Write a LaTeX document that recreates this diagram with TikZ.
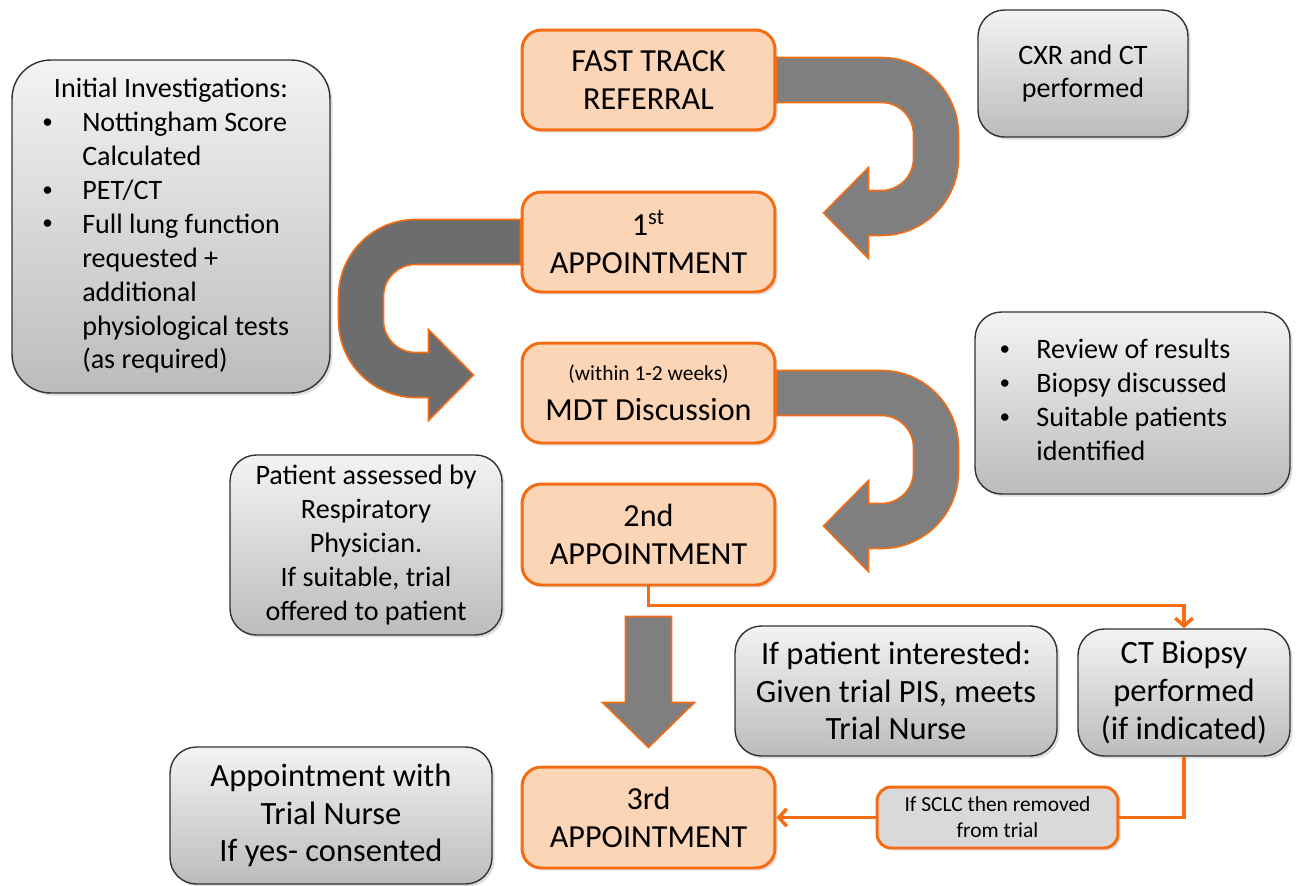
\documentclass[tikz,border=0pt]{standalone}
\usepackage{fontspec}
\setmainfont{Carlito}
\usetikzlibrary{arrows.meta,shadows}

\definecolor{peach}{RGB}{251,213,181}
\definecolor{orangeLine}{RGB}{246,108,18}
\definecolor{arrowGray}{RGB}{127,127,127}
\definecolor{arrowDark}{RGB}{109,109,109}
\definecolor{boxTop}{RGB}{243,243,243}
\definecolor{boxBottom}{RGB}{188,188,188}
\definecolor{labelGray}{RGB}{217,217,217}

\newcommand{\smallbullet}{\raisebox{0.12em}{\scalebox{0.75}{\textbullet}}}

\begin{document}
\begin{tikzpicture}[x=0.02cm, y=-0.02cm,
            stage/.style={rectangle, rounded corners=11pt, draw=orangeLine, line width=1.7pt, fill=peach,
                minimum width=5.06cm, minimum height=2cm, align=center, font=\fontsize{18.3}{21.5}\selectfont,
                drop shadow={opacity=0.25, shadow xshift=1.5pt, shadow yshift=-1.5pt}},
            note/.style={rectangle, rounded corners=15pt, draw=black!80, line width=0.8pt,
                top color=boxTop, bottom color=boxBottom, align=center, font=\fontsize{16}{19.3}\selectfont,
                drop shadow={opacity=0.25, shadow xshift=1.5pt, shadow yshift=-1.5pt}},
            noteBig/.style={note, font=\fontsize{18.5}{21.5}\selectfont},
            noteSmall/.style={rectangle, rounded corners=8pt, draw=orangeLine, line width=1.7pt, fill=labelGray,
                align=center, font=\fontsize{12.2}{14.8}\selectfont,
                drop shadow={opacity=0.25, shadow xshift=1.5pt, shadow yshift=-1.5pt}},
            bigArrow/.style={draw=orangeLine, line width=0.9pt, fill=arrowGray, line join=miter},
            link/.style={draw=orangeLine, line width=2pt, -{Straight Barb[length=4.5pt, width=10pt]}},
            uturn/.pic={
                \draw[pic actions] (0,-22.5) -- (105,-22.5) arc[start angle=-90, end angle=0, radius=77]
                    -- (182,78.5) arc[start angle=0, end angle=90, radius=77] -- (92,155.5) -- (92,178.5)
                    -- (47,133) -- (92,87.5) -- (92,110.5) -- (105,110.5)
                    arc[start angle=90, end angle=0, radius=32] -- (137,54.5)
                    arc[start angle=0, end angle=-90, radius=32] -- (0,22.5) -- cycle;
            }]

            \useasboundingbox (0,0) rectangle (1299,886);

            % main stages
            \node[stage] (fast) at (648.5,80) {FAST TRACK\\REFERRAL};
            \node[stage] (first) at (648.5,242) {1\textsuperscript{st}\\APPOINTMENT};
            \node[stage] (mdt) at (648.5,393) {{\fontsize{12.2}{14}\selectfont (within 1-2 weeks)}\\[1pt]MDT Discussion};
            \node[stage, minimum height=2.02cm] (second) at (648.5,534.5) {2nd\\APPOINTMENT};
            \node[stage, minimum height=2.02cm] (third) at (648.5,817.5) {3rd\\APPOINTMENT};

            % big arrows between stages
            \pic[bigArrow] at (fast.east) {uturn};
            \pic[bigArrow, fill=arrowDark, xscale=-1] at (first.west) {uturn};
            \pic[bigArrow] at (mdt.east) {uturn};
            \draw[bigArrow, shift={(second.south)}] (-23,30) -- (23,30) -- (23,116) -- (46,116)
                -- (0,161) -- (-46,116) -- (-23,116) -- cycle;

            % notes
            \node[note, rounded corners=22pt, minimum width=6.36cm, minimum height=6.66cm] (init) at (171,226.5) {%
                \begin{tabular}{@{}l@{}l@{\hspace{6pt}}}
                \multicolumn{2}{@{}c@{}}{Initial Investigations:}\\
                \makebox[22.7pt][l]{\smallbullet} & Nottingham Score\\
                 & Calculated\\
                \smallbullet & PET/CT\\
                \smallbullet & Full lung function\\
                 & requested +\\
                 & additional\\
                 & physiological tests\\
                 & (as required)
                \end{tabular}};
            \node[note, minimum width=4.2cm, minimum height=2.54cm] (cxr) at (1083,73.5) {CXR and CT\\performed};
            \node[note, minimum width=6.3cm, minimum height=3.64cm] (review) at (1132.5,403) {%
                \begin{tabular}{@{}l@{}l@{\hspace{20pt}}}
                \makebox[21pt][l]{\smallbullet} & Review of results\\
                \smallbullet & Biopsy discussed\\
                \smallbullet & Suitable patients\\
                 & identified
                \end{tabular}};
            \node[note, minimum width=5.44cm, minimum height=3.6cm] (assess) at (366,545)
                {Patient assessed by\\Respiratory\\Physician.\\If suitable, trial\\offered to patient};
            \node[noteBig, minimum width=6.44cm, minimum height=2.6cm] (interest) at (896,691)
                {If patient interested:\\Given trial PIS, meets\\Trial Nurse};
            \node[noteBig, minimum width=4.24cm, minimum height=2.54cm] (biopsy) at (1184,692.5)
                {CT Biopsy\\performed\\(if indicated)};
            \node[noteBig, minimum width=6.44cm, minimum height=2.74cm] (nurse) at (331,815.5)
                {Appointment with\\Trial Nurse\\If yes- consented};

            % orange links
            \draw[link] (second.south) -- ++(0,19) -| (biopsy.north);
            \draw[link] (biopsy.south) |- (third.east);
            \node[noteSmall, minimum width=4.82cm, minimum height=1.22cm] (sclc) at (997.5,817.5)
                {If SCLC then removed\\from trial};

\end{tikzpicture}
\end{document}
